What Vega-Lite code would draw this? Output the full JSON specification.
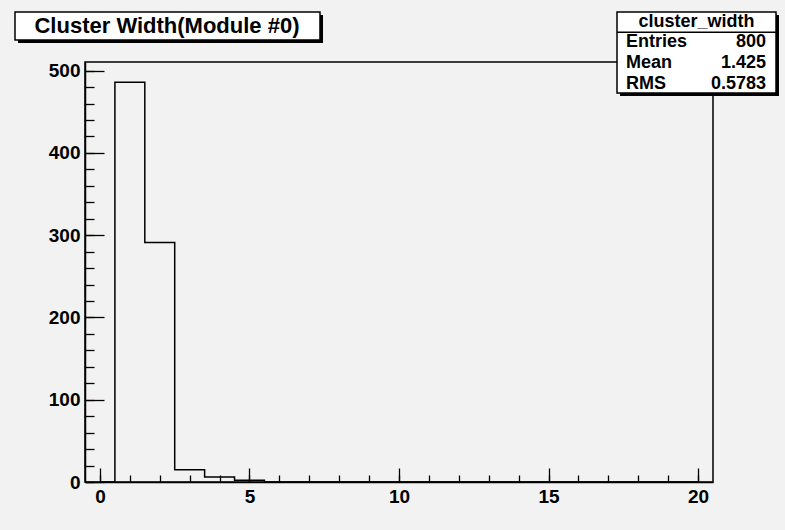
{
  "$schema": "https://vega.github.io/schema/vega-lite/v6.json",
  "autosize": {"type": "none"},
  "width": 628,
  "height": 420,
  "padding": {"left": 85, "top": 62, "right": 72, "bottom": 48},
  "background": "#f2f2f2",
  "config": {
    "font": "Liberation Sans",
    "view": {"stroke": "black", "strokeWidth": 1.5, "fill": "#f2f2f2"},
    "axis": {
      "grid": false, "title": null, "domainColor": "black", "domainWidth": 1.5,
      "tickColor": "black", "tickWidth": 1.3, "labelColor": "black",
      "labelFont": "Liberation Sans", "labelFontWeight": "bold", "labelFontSize": 19
    }
  },
  "datasets": {
    "hist": [
      {"width": 0, "count": 0}, {"width": 1, "count": 486}, {"width": 2, "count": 291},
      {"width": 3, "count": 15}, {"width": 4, "count": 6}, {"width": 5, "count": 2},
      {"width": 6, "count": 0}, {"width": 7, "count": 0}, {"width": 8, "count": 0},
      {"width": 9, "count": 0}, {"width": 10, "count": 0}, {"width": 11, "count": 0},
      {"width": 12, "count": 0}, {"width": 13, "count": 0}, {"width": 14, "count": 0},
      {"width": 15, "count": 0}, {"width": 16, "count": 0}, {"width": 17, "count": 0},
      {"width": 18, "count": 0}, {"width": 19, "count": 0}, {"width": 20, "count": 0}
    ],
    "stats": [
      {"stat": "Entries", "value": "800"},
      {"stat": "Mean", "value": "1.425"},
      {"stat": "RMS", "value": "0.5783"}
    ],
    "titles": [
      {"title": "Cluster Width(Module #0)", "statsTitle": "cluster_width"}
    ]
  },
  "resolve": {"axis": {"x": "independent", "y": "independent"}},
  "layer": [
    {
      "data": {"name": "hist"},
      "mark": {"type": "line", "interpolate": "step", "color": "black", "strokeWidth": 1.5},
      "encoding": {
        "x": {"field": "width", "type": "quantitative",
              "scale": {"domain": [-0.5, 20.5], "nice": false, "zero": false},
              "axis": {"orient": "bottom", "values": [0, 5, 10, 15, 20], "tickSize": -14, "labelPadding": 19}},
        "y": {"field": "count", "type": "quantitative",
              "scale": {"domain": [0, 510.5], "nice": false},
              "axis": {"orient": "left", "values": [0, 100, 200, 300, 400, 500], "tickSize": -19, "labelPadding": 24}}
      }
    },
    {
      "data": {"name": "hist"},
      "mark": {"type": "point", "opacity": 0},
      "encoding": {
        "x": {"field": "width", "type": "quantitative",
              "axis": {"orient": "bottom", "values": [0,1,2,3,4,5,6,7,8,9,10,11,12,13,14,15,16,17,18,19,20], "tickSize": -7, "labels": false, "domain": false}},
        "y": {"field": "count", "type": "quantitative",
              "axis": {"orient": "left", "values": [0,20,40,60,80,100,120,140,160,180,200,220,240,260,280,300,320,340,360,380,400,420,440,460,480,500], "tickSize": -9, "labels": false, "domain": false}}
      }
    },
    {
      "data": {"name": "titles"},
      "mark": {"type": "rect", "color": "black"},
      "encoding": {
        "x": {"datum": -2.740, "type": "quantitative", "axis": null},
        "x2": {"datum": 7.459},
        "y": {"datum": 567.6, "type": "quantitative", "axis": null},
        "y2": {"datum": 533.6}
      }
    },
    {
      "data": {"name": "titles"},
      "mark": {"type": "rect", "fill": "white", "stroke": "black", "strokeWidth": 1.5},
      "encoding": {
        "x": {"datum": -2.841, "type": "quantitative", "axis": null},
        "x2": {"datum": 7.358},
        "y": {"datum": 571.3, "type": "quantitative", "axis": null},
        "y2": {"datum": 537.3}
      }
    },
    {
      "data": {"name": "titles"},
      "mark": {"type": "text", "font": "Liberation Sans", "fontWeight": "bold", "fontSize": 22, "align": "center", "baseline": "middle", "color": "black"},
      "encoding": {
        "x": {"datum": 2.242, "type": "quantitative", "axis": null},
        "y": {"datum": 554.3, "type": "quantitative", "axis": null},
        "text": {"field": "title"}
      }
    },
    {
      "data": {"name": "titles"},
      "mark": {"type": "rect", "color": "black"},
      "encoding": {
        "x": {"datum": 17.390, "type": "quantitative", "axis": null},
        "x2": {"datum": 22.707},
        "y": {"datum": 567.6, "type": "quantitative", "axis": null},
        "y2": {"datum": 469.2}
      }
    },
    {
      "data": {"name": "titles"},
      "mark": {"type": "rect", "fill": "white", "stroke": "black", "strokeWidth": 1.5},
      "encoding": {
        "x": {"datum": 17.290, "type": "quantitative", "axis": null},
        "x2": {"datum": 22.607},
        "y": {"datum": 571.3, "type": "quantitative", "axis": null},
        "y2": {"datum": 472.8}
      }
    },
    {
      "data": {"name": "titles"},
      "mark": {"type": "rule", "color": "black", "strokeWidth": 1.5},
      "encoding": {
        "x": {"datum": 17.290, "type": "quantitative", "axis": null},
        "x2": {"datum": 22.607},
        "y": {"datum": 546.6, "type": "quantitative", "axis": null}
      }
    },
    {
      "data": {"name": "titles"},
      "mark": {"type": "text", "font": "Liberation Sans", "fontWeight": "bold", "fontSize": 18, "align": "center", "baseline": "middle", "color": "black"},
      "encoding": {
        "x": {"datum": 19.948, "type": "quantitative", "axis": null},
        "y": {"datum": 559.1, "type": "quantitative", "axis": null},
        "text": {"field": "statsTitle"}
      }
    },
    {
      "data": {"name": "stats"},
      "mark": {"type": "text", "font": "Liberation Sans", "fontWeight": "bold", "fontSize": 18, "align": "left", "baseline": "middle", "color": "black"},
      "encoding": {
        "x": {"datum": 17.591, "type": "quantitative", "axis": null},
        "y": {"datum": 534.8, "type": "quantitative", "axis": null},
        "yOffset": {"field": "stat", "type": "nominal", "scale": {"type": "point", "domain": ["Entries", "Mean", "RMS"], "range": [0, 42], "padding": 0}},
        "text": {"field": "stat"}
      }
    },
    {
      "data": {"name": "stats"},
      "mark": {"type": "text", "font": "Liberation Sans", "fontWeight": "bold", "fontSize": 18, "align": "right", "baseline": "middle", "color": "black"},
      "encoding": {
        "x": {"datum": 22.272, "type": "quantitative", "axis": null},
        "y": {"datum": 534.8, "type": "quantitative", "axis": null},
        "yOffset": {"field": "stat", "type": "nominal", "scale": {"type": "point", "domain": ["Entries", "Mean", "RMS"], "range": [0, 42], "padding": 0}},
        "text": {"field": "value"}
      }
    }
  ]
}
